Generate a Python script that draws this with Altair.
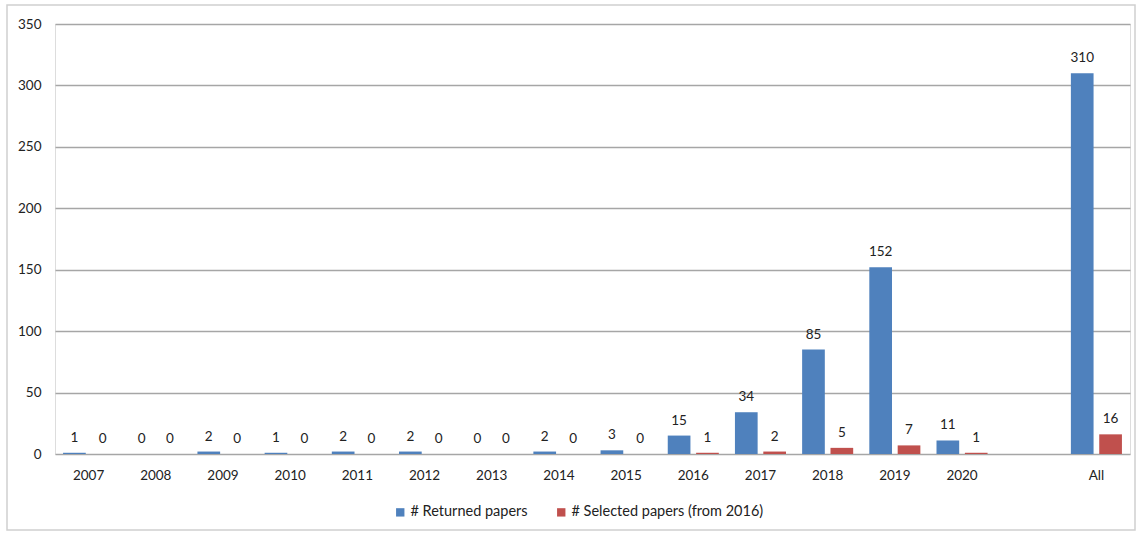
import altair as alt
import pandas as pd

categories = ["2007", "2008", "2009", "2010", "2011", "2012", "2013", "2014",
              "2015", "2016", "2017", "2018", "2019", "2020", "All"]
returned = [1, 0, 2, 1, 2, 2, 0, 2, 3, 15, 34, 85, 152, 11, 310]
selected = [0, 0, 0, 0, 0, 0, 0, 0, 0, 1, 2, 5, 7, 1, 16]
series_names = ["# Returned papers", "# Selected papers (from 2016)"]
series_colors = ["#4F81BD", "#C0504D"]
x_domain = categories[:-1] + [" "] + categories[-1:]
y_ticks = [0, 50, 100, 150, 200, 250, 300, 350]

rows = []
for c, r, s in zip(categories, returned, selected):
    rows.append({"cat": c, "series": series_names[0], "value": r})
    rows.append({"cat": c, "series": series_names[1], "value": s})
df = pd.DataFrame(rows)

FONT = "Lato"

x_enc = alt.X("cat:N", scale=alt.Scale(domain=x_domain, paddingInner=0.24, paddingOuter=0.12),
              axis=alt.Axis(title=None, labelAngle=0, ticks=False, domain=False,
                            labelPadding=14, labelFontSize=13.5, labelColor="#222",
                            labelFont=FONT, grid=False))
xoff = alt.XOffset("series:N", scale=alt.Scale(domain=series_names, paddingInner=0.2))
y_enc = alt.Y("value:Q", scale=alt.Scale(domain=[0, 350], nice=False),
              axis=alt.Axis(title=None, values=y_ticks, ticks=False, domain=False,
                            labelPadding=14, labelFontSize=13.5, labelColor="#222",
                            labelFont=FONT, gridColor="#a6a6a6", gridWidth=1.3))

base = alt.Chart(df)

bars = base.mark_bar().encode(
    x=x_enc, xOffset=xoff, y=y_enc,
    color=alt.Color("series:N", scale=alt.Scale(domain=series_names, range=series_colors),
                    legend=alt.Legend(title=None, orient="none", direction="horizontal",
                                      legendX=338, legendY=481, symbolType="square",
                                      symbolSize=70, labelFontSize=14.5, labelFont=FONT,
                                      labelColor="#222", columnPadding=26, labelLimit=0,
                                      labelOffset=3, symbolStrokeWidth=0)),
)

labels = base.mark_text(dy=-15, fontSize=13.5, font=FONT, color="#222").encode(
    x=alt.X("cat:N", scale=alt.Scale(domain=x_domain)), xOffset=xoff,
    y=alt.Y("value:Q"), text=alt.Text("value:Q"),
)

frame = alt.Chart(pd.DataFrame({"a": [0]})).mark_rect(
    fill=None, stroke="#d0d0d0", strokeWidth=1.5
).encode(x=alt.value(-48), x2=alt.value(1080), y=alt.value(-19), y2=alt.value(506))

chart = alt.layer(frame, bars, labels).properties(
    width=1075, height=430,
    autosize=alt.AutoSizeParams(type="none"),
    padding={"left": 55, "top": 24, "right": 9, "bottom": 81},
).configure_view(stroke=None).configure(background="white")

chart.save("out.html", embed_options={"renderer": "svg", "actions": False})
